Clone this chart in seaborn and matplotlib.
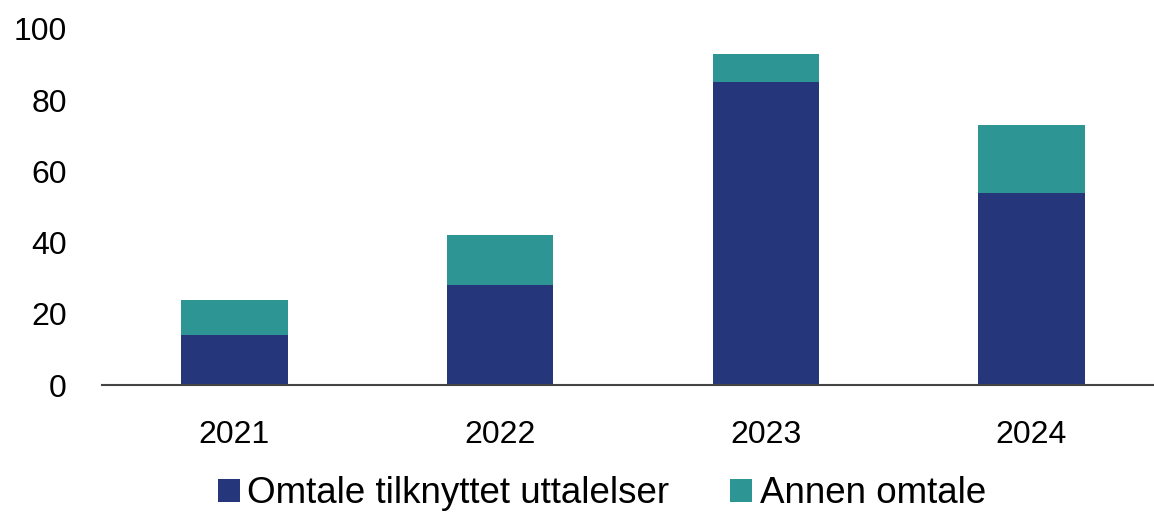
import matplotlib
matplotlib.use("Agg")
import matplotlib.pyplot as plt
import seaborn as sns
import pandas as pd
from matplotlib.patches import Patch

years = ["2021", "2022", "2023", "2024"]
omtale_uttalelser = [14, 28, 85, 54]
annen_omtale = [10, 14, 8, 19]
series_names = ["Omtale tilknyttet uttalelser", "Annen omtale"]
yticks = [0, 20, 40, 60, 80, 100]

dark = "#25377A"
teal = "#2E9595"

sns.set_theme(style="white")
plt.rcParams["font.family"] = ["Liberation Sans", "DejaVu Sans"]
plt.rcParams["text.color"] = "black"

totals = [a + b for a, b in zip(omtale_uttalelser, annen_omtale)]
df = pd.DataFrame({"year": years, "total": totals, "dark": omtale_uttalelser})

fig = plt.figure(figsize=(11.54, 5.15), dpi=100)
ax = fig.add_axes([0.088, 0.2524, 0.921, 0.6913])

sns.barplot(data=df, x="year", y="total", color=teal, width=0.4, ax=ax,
            saturation=1, linewidth=0)
sns.barplot(data=df, x="year", y="dark", color=dark, width=0.4, ax=ax,
            saturation=1, linewidth=0)

ax.set_ylim(0, 100)
ax.set_xlim(-0.5, 3.5)
ax.set_yticks(yticks)
ax.set_yticklabels([str(t) for t in yticks])
ax.set_xlabel("")
ax.set_ylabel("")
ax.tick_params(axis="y", length=0, pad=25, labelsize=23, colors="black")
ax.tick_params(axis="x", length=0, pad=25, labelsize=23, colors="black")
for s in ["top", "right", "left"]:
    ax.spines[s].set_visible(False)
ax.spines["bottom"].set_color("#444444")
ax.spines["bottom"].set_linewidth(1.5)
ax.spines["bottom"].set_clip_on(False)

handles = [Patch(facecolor=dark, edgecolor="none"), Patch(facecolor=teal, edgecolor="none")]
fig.legend(handles, series_names, loc="center", bbox_to_anchor=(0.5215, 0.041),
           ncol=2, frameon=False, handlelength=0.6, handleheight=0.6,
           handletextpad=0.2, columnspacing=1.65, borderpad=0, borderaxespad=0,
           labelcolor="black", prop={"size": 26.5})

fig.savefig("out.png", dpi=100)
